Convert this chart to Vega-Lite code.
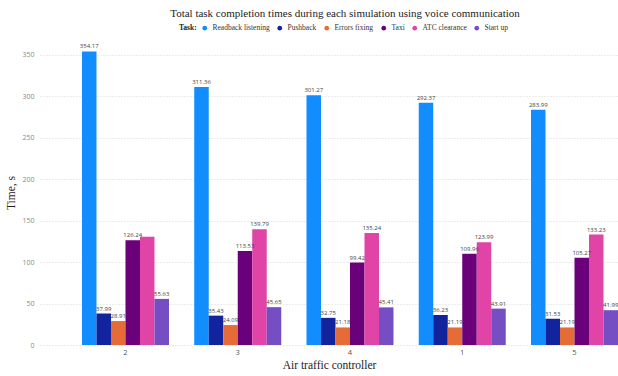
{
  "$schema": "https://vega.github.io/schema/vega-lite/v6.json",
  "autosize": {"type": "none"},
  "width": 578,
  "height": 305,
  "padding": {"left": 40, "top": 40, "right": 0, "bottom": 31},
  "background": "white",
  "title": {
    "text": "Total task completion times during each simulation using voice communication",
    "font": "Liberation Serif",
    "fontSize": 11,
    "fontWeight": "normal",
    "color": "#222",
    "anchor": "middle",
    "dx": 16,
    "offset": 5
  },
  "data": {
    "values": [
      {"controller": "2", "task": "Readback listening", "time": 354.17},
      {"controller": "2", "task": "Pushback", "time": 37.99},
      {"controller": "2", "task": "Errors fixing", "time": 28.91},
      {"controller": "2", "task": "Taxi", "time": 126.24},
      {"controller": "2", "task": "ATC clearance", "time": 130.5},
      {"controller": "2", "task": "Start up", "time": 55.63},
      {"controller": "3", "task": "Readback listening", "time": 311.36},
      {"controller": "3", "task": "Pushback", "time": 35.43},
      {"controller": "3", "task": "Errors fixing", "time": 24.09},
      {"controller": "3", "task": "Taxi", "time": 113.53},
      {"controller": "3", "task": "ATC clearance", "time": 139.79},
      {"controller": "3", "task": "Start up", "time": 45.65},
      {"controller": "4", "task": "Readback listening", "time": 301.27},
      {"controller": "4", "task": "Pushback", "time": 32.75},
      {"controller": "4", "task": "Errors fixing", "time": 21.18},
      {"controller": "4", "task": "Taxi", "time": 99.42},
      {"controller": "4", "task": "ATC clearance", "time": 135.24},
      {"controller": "4", "task": "Start up", "time": 45.41},
      {"controller": "1", "task": "Readback listening", "time": 292.37},
      {"controller": "1", "task": "Pushback", "time": 36.23},
      {"controller": "1", "task": "Errors fixing", "time": 21.19},
      {"controller": "1", "task": "Taxi", "time": 109.96},
      {"controller": "1", "task": "ATC clearance", "time": 123.99},
      {"controller": "1", "task": "Start up", "time": 43.91},
      {"controller": "5", "task": "Readback listening", "time": 283.99},
      {"controller": "5", "task": "Pushback", "time": 31.53},
      {"controller": "5", "task": "Errors fixing", "time": 21.19},
      {"controller": "5", "task": "Taxi", "time": 105.27},
      {"controller": "5", "task": "ATC clearance", "time": 133.23},
      {"controller": "5", "task": "Start up", "time": 41.99}
    ]
  },
  "encoding": {
    "x": {
      "field": "controller",
      "type": "nominal",
      "sort": ["2", "3", "4", "1", "5"],
      "scale": {"paddingInner": 0.225, "paddingOuter": 0.187, "align": 1},
      "axis": {
        "title": "Air traffic controller",
        "titleFont": "Liberation Serif",
        "titleFontSize": 11.5,
        "titleFontWeight": "normal",
        "titleColor": "#222",
        "titlePadding": 4,
        "labelAngle": 0,
        "labelFont": "Open Sans",
        "labelFontSize": 7.5,
        "labelColor": "#555",
        "labelPadding": 3,
        "ticks": false,
        "domain": false,
        "grid": false
      }
    },
    "xOffset": {
      "field": "task",
      "type": "nominal",
      "sort": ["Readback listening", "Pushback", "Errors fixing", "Taxi", "ATC clearance", "Start up"],
      "scale": {"paddingInner": 0, "paddingOuter": 0}
    },
    "y": {
      "field": "time",
      "type": "quantitative",
      "scale": {"domain": [0, 368], "nice": false},
      "axis": {
        "title": "Time, s",
        "titleFont": "Liberation Serif",
        "titleFontSize": 11.5,
        "titleFontWeight": "normal",
        "titleColor": "#222",
        "titlePadding": 5,
        "values": [0, 50, 100, 150, 200, 250, 300, 350],
        "labelFont": "Open Sans",
        "labelFontSize": 7,
        "labelColor": "#888",
        "labelPadding": 6,
        "ticks": false,
        "domain": false,
        "grid": true,
        "gridColor": "#d8d8d8",
        "gridDash": [1, 2],
        "gridWidth": 1
      }
    }
  },
  "layer": [
    {
      "mark": {"type": "bar"},
      "encoding": {
        "color": {
          "field": "task",
          "type": "nominal",
          "sort": ["Readback listening", "Pushback", "Errors fixing", "Taxi", "ATC clearance", "Start up"],
          "scale": {
            "domain": ["Readback listening", "Pushback", "Errors fixing", "Taxi", "ATC clearance", "Start up"],
            "range": ["#118DFF", "#12239E", "#E66C37", "#6B007B", "#E044A7", "#744EC2"]
          },
          "legend": {
            "orient": "none",
            "legendX": 139,
            "legendY": -16,
            "direction": "horizontal",
            "columns": 6,
            "title": "Task:",
            "titleOrient": "left",
            "titleFont": "Liberation Serif",
            "titleFontSize": 7.5,
            "titleFontWeight": "bold",
            "titleColor": "#222",
            "titlePadding": 4,
            "titleBaseline": "middle",
            "labelFont": "Liberation Serif",
            "labelFontSize": 7.5,
            "labelColor": "#333",
            "symbolType": "circle",
            "symbolSize": 22,
            "symbolStrokeWidth": 0,
            "columnPadding": 6,
            "labelOffset": 4
          }
        }
      }
    },
    {
      "transform": [
        {"filter": "!(datum.controller == '2' && datum.task == 'ATC clearance')"}
      ],
      "mark": {
        "type": "text",
        "baseline": "bottom",
        "dy": -2,
        "font": "Open Sans",
        "fontSize": 6,
        "color": "#444"
      },
      "encoding": {
        "text": {"field": "time", "type": "quantitative", "format": ".2f"}
      }
    }
  ],
  "config": {
    "view": {"stroke": null}
  }
}
